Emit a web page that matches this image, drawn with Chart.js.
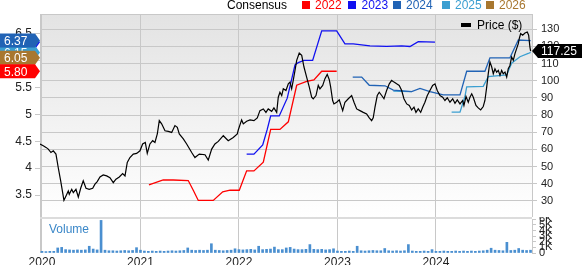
<!DOCTYPE html>
<html>
<head>
<meta charset="utf-8">
<script src="https://cdn.jsdelivr.net/npm/chart.js@4.4.1/dist/chart.umd.min.js"></script>
<style>
body { margin: 0; background: #fff; font-family: "Liberation Sans", Arial, sans-serif; }
#wrap { position: relative; width: 582px; height: 265px; overflow: hidden; }
canvas { position: absolute; left: 0; }
.lg { position: absolute; top: -1px; font-size: 12px; line-height: 12px; white-space: nowrap; }
.sq { position: absolute; top: 1px; width: 8px; height: 8px; }
</style>
</head>
<body>
<div id="wrap">
  <canvas id="mainChart" width="582" height="217" style="top:0"></canvas>
  <canvas id="volChart" width="582" height="48" style="top:217px"></canvas>
  <div id="legend"></div>
  <div style="position:absolute;left:461px;top:23px;width:10px;height:4px;background:#000"></div>
  <div class="lg" style="left:477px;top:19px;color:#000">Price ($)</div>
  <div class="lg" style="left:49px;top:223px;color:#3a87c8">Volume</div>
</div>
<script>
// x range in decimal years
const xMin = 2019.98;
const xMax = 2024.975;
const yearTicks = [2020, 2021, 2022, 2023, 2024];
const epsTicks = [3.5, 4, 4.5, 5, 5.5, 6, 6.5];
const priceTicks = [30, 40, 50, 60, 70, 80, 90, 100, 110, 120, 130];
const volTicks = [0, 1, 2, 3, 4, 5, 6];

// price ($) on the right axis
const priceDates = [
  2019.98, 2020.013, 2020.041, 2020.064, 2020.091, 2020.115, 2020.142, 2020.165, 2020.19, 2020.21,
  2020.223, 2020.244, 2020.267, 2020.277, 2020.302, 2020.318, 2020.345, 2020.369, 2020.393, 2020.419,
  2020.447, 2020.48, 2020.515, 2020.538, 2020.561, 2020.589, 2020.622, 2020.657, 2020.69, 2020.724,
  2020.751, 2020.785, 2020.819, 2020.843, 2020.866, 2020.893, 2020.927, 2020.961, 2020.995, 2021.022,
  2021.049, 2021.069, 2021.096, 2021.124, 2021.147, 2021.171, 2021.191, 2021.215, 2021.249, 2021.282,
  2021.317, 2021.35, 2021.374, 2021.394, 2021.435, 2021.469, 2021.52, 2021.553, 2021.597, 2021.655,
  2021.688, 2021.723, 2021.756, 2021.79, 2021.841, 2021.891, 2021.942, 2021.983, 2021.993, 2022.027,
  2022.044, 2022.078, 2022.112, 2022.152, 2022.186, 2022.213, 2022.247, 2022.274, 2022.297, 2022.332,
  2022.355, 2022.383, 2022.399, 2022.416, 2022.434, 2022.45, 2022.477, 2022.501, 2022.518, 2022.535,
  2022.551, 2022.569, 2022.586, 2022.612, 2022.637, 2022.66, 2022.687, 2022.714, 2022.738, 2022.754,
  2022.782, 2022.805, 2022.822, 2022.85, 2022.873, 2022.896, 2022.917, 2022.931, 2022.951, 2022.964,
  2022.992, 2023.018, 2023.053, 2023.076, 2023.11, 2023.144, 2023.168, 2023.195, 2023.228, 2023.262,
  2023.296, 2023.323, 2023.347, 2023.363, 2023.381, 2023.404, 2023.424, 2023.449, 2023.472, 2023.499,
  2023.526, 2023.55, 2023.574, 2023.601, 2023.627, 2023.652, 2023.675, 2023.703, 2023.729, 2023.753,
  2023.777, 2023.797, 2023.82, 2023.845, 2023.865, 2023.888, 2023.912, 2023.939, 2023.966, 2023.99,
  2024.013, 2024.041, 2024.068, 2024.091, 2024.115, 2024.142, 2024.17, 2024.193, 2024.216, 2024.244,
  2024.271, 2024.284, 2024.305, 2024.328, 2024.345, 2024.363, 2024.379, 2024.406, 2024.429, 2024.454,
  2024.48, 2024.497, 2024.515, 2024.531, 2024.548, 2024.566, 2024.582, 2024.599, 2024.616, 2024.633,
  2024.65, 2024.667, 2024.683, 2024.701, 2024.718, 2024.734, 2024.751, 2024.768, 2024.785, 2024.802,
  2024.819, 2024.836, 2024.846, 2024.86, 2024.88, 2024.904, 2024.927, 2024.941, 2024.954, 2024.961
];
const prices = [
  63.2, 62.2, 61.2, 60.2, 58.2, 59.2, 57.3, 49.5, 41.7, 34.9,
  30.4, 32.9, 35.8, 33.9, 36.8, 34.9, 36.8, 32.3, 37.4, 41.7,
  37.4, 36.8, 37.4, 39.8, 41.3, 44.0, 45.2, 44.6, 43.6, 40.7,
  42.7, 44.0, 46.0, 44.6, 52.4, 55.3, 57.3, 57.7, 59.2, 63.2,
  64.1, 57.7, 63.2, 65.1, 64.1, 69.0, 76.8, 74.9, 70.9, 70.5,
  69.9, 73.9, 72.9, 69.0, 66.1, 63.2, 58.2, 55.3, 57.3, 56.9,
  53.8, 60.2, 63.2, 64.7, 68.0, 65.1, 67.0, 69.0, 71.3, 77.2,
  74.9, 76.4, 77.2, 76.8, 78.4, 82.6, 83.6, 81.6, 83.6, 82.2,
  84.2, 81.6, 90.4, 93.3, 91.4, 95.3, 94.3, 98.2, 99.2, 95.3,
  100.2, 106.0, 111.9, 116.1, 114.8, 108.0, 102.1, 96.3, 90.4, 89.5,
  91.4, 97.3, 95.3, 97.3, 101.2, 103.7, 100.6, 96.3, 88.5, 86.5,
  87.5, 88.9, 82.6, 87.5, 89.5, 91.4, 87.5, 83.6, 82.6, 81.6,
  80.7, 78.4, 76.8, 78.4, 84.6, 91.4, 93.3, 91.4, 89.5, 94.3,
  98.2, 100.2, 99.2, 98.2, 97.3, 94.3, 89.5, 86.5, 85.6, 83.0,
  84.6, 81.6, 83.6, 81.6, 84.6, 87.5, 91.4, 94.3, 97.3, 98.2,
  94.3, 91.4, 90.4, 88.5, 90.1, 87.5, 89.5, 86.9, 88.9, 86.5,
  88.5, 85.6, 90.8, 87.5, 90.4, 92.4, 90.4, 85.6, 84.2, 83.0,
  85.0, 88.5, 96.3, 104.1, 110.9, 108.0, 104.1, 107.0, 105.0, 106.0,
  103.1, 106.0, 104.1, 105.0, 102.1, 107.0, 108.9, 113.8, 111.9, 115.8,
  118.7, 121.6, 124.6, 127.5, 126.5, 127.8, 128.4, 126.5, 119.6, 117.25
];

// consensus EPS by fiscal year, left axis
const eps2022Dates = [2021.086, 2021.231, 2021.333, 2021.485, 2021.536, 2021.587, 2021.739, 2021.835, 2021.909, 2022.003,
  2022.078, 2022.152, 2022.247, 2022.322, 2022.416, 2022.501, 2022.586, 2022.687, 2022.761, 2022.84, 2022.992];
const eps2022 = [3.69, 3.78, 3.78, 3.77, 3.59, 3.40, 3.40, 3.56, 3.59, 3.59,
  3.95, 3.95, 4.11, 4.72, 4.72, 4.86, 5.54, 5.61, 5.64, 5.80, 5.80];

const eps2023Dates = [2022.078, 2022.152, 2022.241, 2022.287, 2022.322, 2022.409, 2022.49, 2022.569, 2022.602, 2022.66,
  2022.748, 2022.84, 2022.992, 2023.076, 2023.16, 2023.33, 2023.499, 2023.652, 2023.736, 2023.82, 2023.99];
const eps2023 = [4.26, 4.26, 4.43, 4.72, 4.97, 4.97, 5.30, 5.92, 5.96, 6.00,
  6.00, 6.55, 6.55, 6.31, 6.31, 6.27, 6.26, 6.27, 6.26, 6.35, 6.34];

const eps2024Dates = [2023.155, 2023.246, 2023.323, 2023.482, 2023.567, 2023.753, 2023.838, 2023.939, 2024.074, 2024.244,
  2024.312, 2024.497, 2024.548, 2024.751, 2024.836, 2024.961];
const eps2024 = [5.69, 5.69, 5.54, 5.53, 5.45, 5.42, 5.48, 5.42, 5.36, 5.36,
  5.80, 5.80, 6.05, 6.05, 6.38, 6.37];

const eps2025Dates = [2023.567, 2023.753, 2023.9, 2024.159, 2024.244, 2024.294, 2024.312, 2024.48, 2024.531, 2024.718,
  2024.768, 2024.853, 2024.937, 2024.961];
const eps2025 = [5.43, 5.42, null, 5.04, 5.04, 5.33, 5.51, 5.52, 5.70, 5.73,
  5.95, 6.07, 6.13, 6.15];

const eps2026Dates = [2024.961];
const eps2026 = [6.05];

// volume (thousands), one bar every 0.04 year, one row per year
const volStart = 2020;
const volStep = 0.04;
const volumes = [
  0.3, 0.25, 0.3, 0.3, 0.9, 1.0, 0.6, 0.55, 0.5, 0.55, 0.5, 0.55, 1.2, 0.7, 0.55, 5.8, 0.5, 0.4, 0.4, 0.35, 0.4, 0.45, 0.4, 0.45, 0.95,
  0.5, 0.35, 0.3, 0.35, 0.3, 0.35, 0.3, 0.35, 0.4, 0.35, 0.4, 0.45, 0.9, 0.5, 0.45, 0.5, 0.45, 0.5, 1.65, 0.5, 0.45, 0.4, 0.45, 0.5, 0.75,
  0.6, 0.55, 0.6, 0.65, 0.55, 1.2, 0.6, 0.65, 0.7, 1.05, 0.6, 0.6, 0.9, 1.0, 0.7, 0.6, 0.6, 0.65, 1.5, 0.65, 0.6, 0.65, 0.55, 0.6, 0.75,
  0.35, 0.3, 0.3, 0.35, 0.3, 1.2, 0.4, 0.35, 0.4, 0.45, 0.4, 0.4, 0.8, 0.4, 0.35, 0.4, 0.35, 0.4, 1.5, 0.35, 0.3, 0.3, 0.35, 0.3, 0.6,
  0.3, 0.3, 0.35, 0.3, 0.3, 0.35, 0.3, 0.35, 0.3, 0.35, 0.3, 0.35, 0.4, 0.5, 0.85, 0.5, 0.45, 0.4, 1.9, 0.45, 0.5, 0.8, 0.5, 0.45, 0.5
];

const seriesNames = ['2022', '2023', '2024', '2025', '2026'];
const seriesColors = ['#ff0000', '#1010f0', '#2163b5', '#3b9fd1', '#a8772f'];
const legendX = [315, 361.5, 406, 455, 499];

const gridCol = '#c8c8c8';
const fontFam = '"Liberation Sans", Arial, sans-serif';
Chart.defaults.font.family = fontFam;
Chart.defaults.color = '#222';

function toPts(xs, ys) {
  return xs.map((x, i) => ({ x: x, y: ys[i] }));
}
function noPad(s) {
  s.paddingTop = 0; s.paddingBottom = 0; s.paddingLeft = 0; s.paddingRight = 0;
}
function setTicks(list) {
  return s => { s.ticks = list.map(v => ({ value: v })); };
}

// legend at the top
const legend = document.getElementById('legend');
legend.innerHTML = '<div class="lg" style="left:227px;color:#000">Consensus</div>';
seriesNames.forEach((n, i) => {
  legend.innerHTML += '<div class="sq" style="left:' + (legendX[i] - 13.5) + 'px;background:' + seriesColors[i] + '"></div>'
    + '<div class="lg" style="left:' + legendX[i] + 'px;color:' + seriesColors[i] + '">' + n + '</div>';
});

const epsData = [eps2022, eps2023, eps2024, eps2025, eps2026];
const epsDates = [eps2022Dates, eps2023Dates, eps2024Dates, eps2025Dates, eps2026Dates];

function leftBadge(ctx, y, color, text) {
  ctx.fillStyle = color;
  ctx.beginPath();
  ctx.moveTo(0, y - 7);
  ctx.lineTo(35, y - 7);
  ctx.lineTo(40, y);
  ctx.lineTo(35, y + 7);
  ctx.lineTo(0, y + 7);
  ctx.closePath();
  ctx.fill();
  ctx.fillStyle = '#fff';
  ctx.fillText(text, 4, y + 1);
}

const panelPlugin = {
  id: 'panel',
  beforeDraw(chart) {
    const { ctx, chartArea: a } = chart;
    const g = ctx.createLinearGradient(0, a.top, 0, a.bottom);
    g.addColorStop(0, '#e3e3e3');
    g.addColorStop(1, '#ffffff');
    ctx.save();
    ctx.fillStyle = g;
    ctx.fillRect(a.left, a.top, a.right - a.left, a.bottom - a.top);
    ctx.restore();
  },
  beforeDatasetsDraw(chart) {
    const { ctx, chartArea: a } = chart;
    ctx.save();
    ctx.strokeStyle = gridCol;
    ctx.lineWidth = 1;
    ctx.beginPath();
    ctx.moveTo(a.left, a.top + 0.5);
    ctx.lineTo(a.right, a.top + 0.5);
    ctx.stroke();
    ctx.restore();
  },
  afterDraw(chart) {
    const ctx = chart.ctx;
    const eps = chart.scales.eps;
    const price = chart.scales.price;
    ctx.save();
    ctx.font = '12px ' + fontFam;
    ctx.textBaseline = 'middle';
    ctx.textAlign = 'left';
    // back to front: 2023, 2025, 2024, 2026, 2022
    [1, 3, 2, 4, 0].forEach(i => {
      const v = epsData[i][epsData[i].length - 1];
      leftBadge(ctx, eps.getPixelForValue(v), seriesColors[i], v.toFixed(2));
    });
    const last = prices[prices.length - 1];
    const y = price.getPixelForValue(last);
    ctx.fillStyle = '#000';
    ctx.beginPath();
    ctx.moveTo(532, y);
    ctx.lineTo(538, y - 7);
    ctx.lineTo(582, y - 7);
    ctx.lineTo(582, y + 7);
    ctx.lineTo(538, y + 7);
    ctx.closePath();
    ctx.fill();
    ctx.fillStyle = '#fff';
    ctx.fillText(last.toFixed(2), 541, y + 1);
    ctx.restore();
  }
};

const datasets = [{
  label: 'Price ($)',
  data: toPts(priceDates, prices),
  yAxisID: 'price',
  borderColor: '#000',
  borderWidth: 1.2
}];
seriesNames.forEach((n, i) => {
  datasets.push({
    label: n,
    data: toPts(epsDates[i], epsData[i]),
    yAxisID: 'eps',
    borderColor: seriesColors[i],
    borderWidth: 1.3,
    spanGaps: false
  });
});

new Chart(document.getElementById('mainChart'), {
  type: 'line',
  data: { datasets: datasets },
  options: {
    responsive: false,
    animation: false,
    devicePixelRatio: 1,
    layout: { padding: { top: 14, left: 0, right: 0, bottom: 0 }, autoPadding: false },
    elements: { point: { radius: 0 }, line: { tension: 0 } },
    plugins: { legend: { display: false }, tooltip: { enabled: false } },
    scales: {
      x: {
        type: 'linear', min: xMin, max: xMax,
        ticks: { display: false },
        grid: { color: gridCol, drawTicks: false },
        border: { display: false },
        afterBuildTicks: setTicks(yearTicks),
        afterFit: s => { s.height = 0; noPad(s); }
      },
      eps: {
        type: 'linear', position: 'left', min: 3.093, max: 6.863,
        ticks: { font: { size: 12 }, color: '#222', padding: 3, callback: v => String(v) },
        grid: { drawOnChartArea: false, color: gridCol, tickLength: 5 },
        border: { color: gridCol },
        afterBuildTicks: setTicks(epsTicks),
        afterFit: s => { s.width = 40; noPad(s); }
      },
      price: {
        type: 'linear', position: 'right', min: 20.68, max: 138.85,
        ticks: { font: { size: 11 }, color: '#222', padding: 4, callback: v => String(v) },
        grid: { color: gridCol, tickLength: 5 },
        border: { color: gridCol },
        afterBuildTicks: setTicks(priceTicks),
        afterFit: s => { s.width = 50; noPad(s); }
      }
    }
  },
  plugins: [panelPlugin]
});

const bandPlugin = {
  id: 'band',
  beforeDraw(chart) {
    const { ctx, chartArea: a } = chart;
    ctx.save();
    ctx.fillStyle = '#dcdcdc';
    ctx.fillRect(a.left, a.top - 2, a.right - a.left, 2);
    ctx.strokeStyle = gridCol;
    ctx.beginPath();
    ctx.moveTo(a.left + 0.5, a.top);
    ctx.lineTo(a.left + 0.5, a.bottom);
    ctx.stroke();
    ctx.restore();
  }
};

const volDates = volumes.map((v, i) => volStart + i * volStep);

new Chart(document.getElementById('volChart'), {
  type: 'bar',
  data: {
    datasets: [{
      data: toPts(volDates, volumes),
      yAxisID: 'vol',
      backgroundColor: '#4a8fd0',
      barThickness: 2
    }]
  },
  options: {
    responsive: false,
    animation: false,
    devicePixelRatio: 1,
    layout: { padding: { top: 2, left: 40, right: 0, bottom: 0 }, autoPadding: false },
    plugins: { legend: { display: false }, tooltip: { enabled: false } },
    scales: {
      x: {
        type: 'linear', min: xMin, max: xMax, offset: false,
        ticks: { font: { size: 12 }, color: '#222', padding: 2, maxRotation: 0, callback: v => String(v) },
        grid: { color: gridCol, drawTicks: false, offset: false },
        border: { display: false },
        afterBuildTicks: setTicks(yearTicks),
        afterFit: s => { s.height = 12; noPad(s); }
      },
      vol: {
        type: 'linear', position: 'right', min: 0, max: 6.05,
        ticks: { autoSkip: false, font: { size: 11 }, color: '#222', padding: 3, callback: v => (v === 0 ? '0' : v + 'K') },
        grid: { drawOnChartArea: false, color: gridCol, tickLength: 4 },
        border: { color: gridCol },
        afterBuildTicks: setTicks(volTicks),
        afterFit: s => { s.width = 50; noPad(s); }
      }
    }
  },
  plugins: [bandPlugin]
});
</script>
</body>
</html>
